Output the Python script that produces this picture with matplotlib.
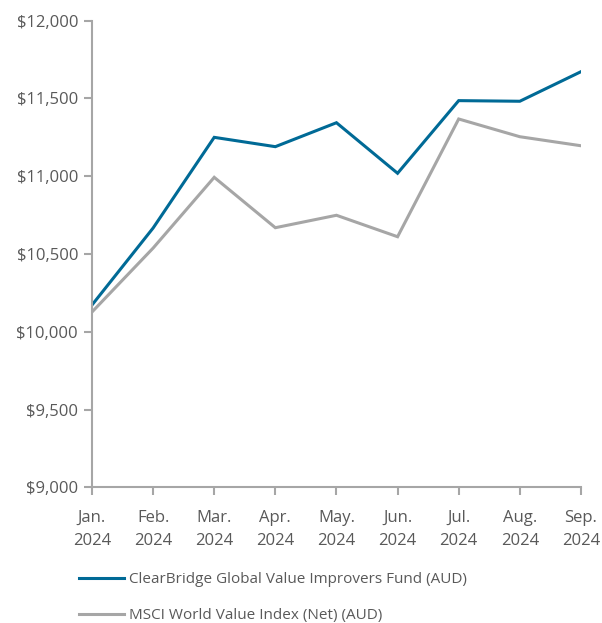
import matplotlib
matplotlib.use("Agg")
import matplotlib.pyplot as plt
from matplotlib.ticker import FuncFormatter

# --------------------------------------------------------------------
# Data (growth of $10,000)
# --------------------------------------------------------------------
months = ["Jan.\n2024", "Feb.\n2024", "Mar.\n2024", "Apr.\n2024", "May.\n2024",
          "Jun.\n2024", "Jul.\n2024", "Aug.\n2024", "Sep.\n2024"]
fund = [10172, 10667, 11250, 11190, 11344, 11019, 11486, 11482, 11672]
index = [10127, 10538, 10993, 10669, 10749, 10611, 11368, 11254, 11196]
fund_label = "ClearBridge Global Value Improvers Fund (AUD)"
index_label = "MSCI World Value Index (Net) (AUD)"
yticks = [9000, 9500, 10000, 10500, 11000, 11500, 12000]

# --------------------------------------------------------------------
# Styles
# --------------------------------------------------------------------
plt.rcParams['font.family'] = ['Open Sans', 'DejaVu Sans']
txt = '#595959'
axcol = '#A6A6A6'
blue = '#006A96'
grey = '#A6A6A6'
fs = 12

fig = plt.figure(figsize=(6.02, 6.23), dpi=100)
ax = fig.add_axes([0.1528, 0.2178, 0.8122, 0.7490])

x = list(range(len(months)))
ax.plot(x, fund, color=blue, lw=2.2, label=fund_label, solid_joinstyle='miter')
ax.plot(x, index, color=grey, lw=2.2, label=index_label, solid_joinstyle='miter')

ax.set_xlim(0, len(months) - 1)
ax.set_ylim(9000, 12000)
ax.set_yticks(yticks)
ax.yaxis.set_major_formatter(FuncFormatter(lambda v, p: "${:,.0f}".format(v)))
ax.set_xticks(x)
ax.set_xticklabels(months)

for s in ['top', 'right']:
    ax.spines[s].set_visible(False)
for s in ['left', 'bottom']:
    ax.spines[s].set_color(axcol)
    ax.spines[s].set_linewidth(1.5)
ax.tick_params(axis='both', colors=axcol, labelcolor=txt, labelsize=fs,
               length=6, width=1.5, direction='out')
ax.tick_params(axis='x', pad=10)
ax.tick_params(axis='y', pad=4)
for lab in ax.get_xticklabels():
    lab.set_linespacing(1.6)

# --------------------------------------------------------------------
# Legend below the plot
# --------------------------------------------------------------------
leg = fig.legend(loc='upper left', bbox_to_anchor=(0.131, 0.082), frameon=False,
                 fontsize=11, handlelength=2.95, handletextpad=0.33,
                 labelspacing=1.4, borderaxespad=0, borderpad=0)
for t in leg.get_texts():
    t.set_color(txt)

plt.savefig("out.png", dpi=100)
plt.close()
